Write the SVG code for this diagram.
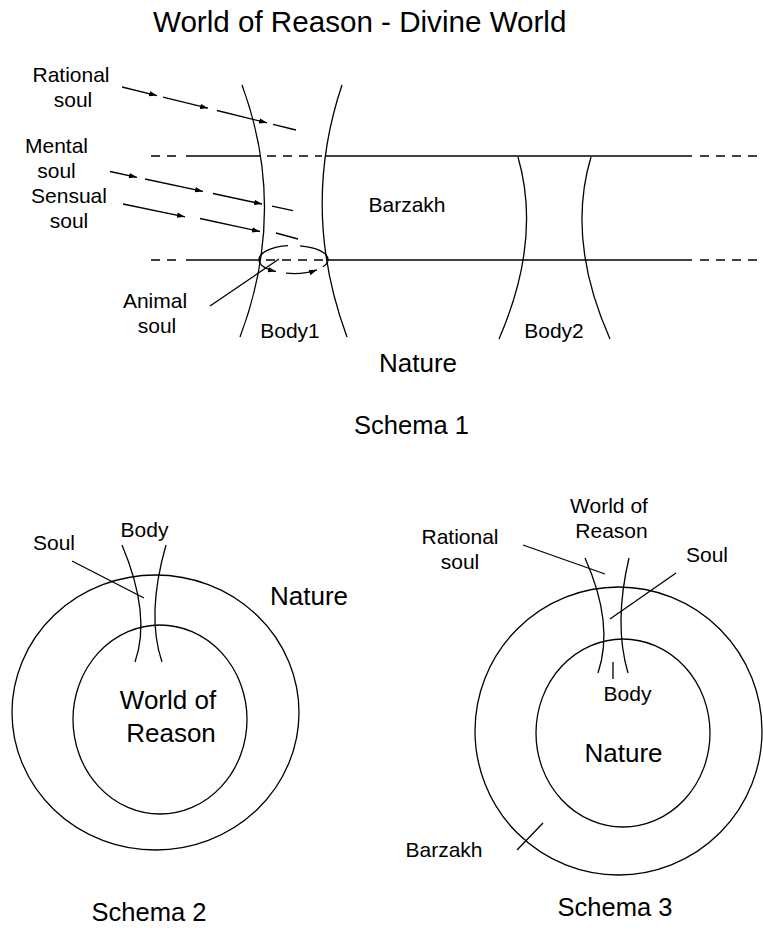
<svg xmlns="http://www.w3.org/2000/svg" width="763" height="941" viewBox="0 0 763 941">
  <style>
    .ln { fill: none; stroke: #000; stroke-width: 1.3; }
    .dash { fill: none; stroke: #000; stroke-width: 1.3; stroke-dasharray: 9 7; }
    .t { font-family: "Liberation Sans", Arial, sans-serif; fill: #000; }
    .s21 { font-size: 21px; }
    .s26 { font-size: 26px; }
    .mid { text-anchor: middle; }
  </style>
  <defs>
    <marker id="ah" markerUnits="userSpaceOnUse" markerWidth="9" markerHeight="7" refX="8" refY="3" orient="auto">
      <path d="M0,0.3 L8,3 L0,5.7 z" fill="#000"/>
    </marker>
  </defs>
  <rect width="763" height="941" fill="#fff"/>

  <text class="t" x="153" y="32" font-size="29.6">World of Reason - Divine World</text>

  <!-- Schema 1 -->
  <g id="schema1">
    <g id="levels">
      <line class="dash" x1="151" y1="156" x2="180" y2="156"/>
      <line class="ln" x1="186" y1="156" x2="261" y2="156"/>
      <line class="dash" x1="267" y1="156" x2="322" y2="156"/>
      <line class="ln" x1="325" y1="156" x2="692" y2="156"/>
      <line class="dash" x1="700" y1="156" x2="763" y2="156" stroke-dasharray="11 7"/>
      <line class="dash" x1="151" y1="260" x2="180" y2="260"/>
      <line class="ln" x1="186" y1="260" x2="260" y2="260"/>
      <line class="dash" x1="266" y1="260" x2="324" y2="260"/>
      <line class="ln" x1="327" y1="260" x2="692" y2="260"/>
      <line class="dash" x1="700" y1="260" x2="763" y2="260" stroke-dasharray="11 7"/>
    </g>
    <g id="body1">
      <path class="ln" d="M242,85 Q288,210 240,337"/>
      <path class="ln" d="M342,85 Q300,210 347,337"/>
      <text class="t s21 mid" x="290" y="338">Body1</text>
    </g>
    <g id="body2">
      <path class="ln" d="M518,157 Q542,240 499,339"/>
      <path class="ln" d="M591,157 Q566,240 610,339"/>
      <text class="t s21 mid" x="554" y="338">Body2</text>
    </g>
    <text id="barzakh1" class="t s21 mid" x="407" y="212">Barzakh</text>
    <text id="nature1" class="t s26 mid" x="418" y="372">Nature</text>
    <text id="caption1" class="t mid" x="411.5" y="434" font-size="25.5">Schema 1</text>

    <g id="rational-soul">
      <text class="t s21 mid" x="71" y="82">Rational</text>
      <text class="t s21 mid" x="73" y="107">soul</text>
    </g>
    <g id="mental-soul">
      <text class="t s21 mid" x="56.5" y="153">Mental</text>
      <text class="t s21 mid" x="56.5" y="178">soul</text>
    </g>
    <g id="sensual-soul">
      <text class="t s21 mid" x="69" y="203">Sensual</text>
      <text class="t s21 mid" x="69" y="228">soul</text>
    </g>
    <g id="animal-soul">
      <text class="t s21 mid" x="155" y="308">Animal</text>
      <text class="t s21 mid" x="157" y="333">soul</text>
    </g>

    <g id="connectors1">
      <!-- rational soul path -->
      <line class="ln" x1="122" y1="87" x2="157" y2="95.6" marker-end="url(#ah)"/>
      <line class="ln" x1="163" y1="97.1" x2="208" y2="108.2" marker-end="url(#ah)"/>
      <line class="ln" x1="217" y1="110.5" x2="267" y2="122.8" marker-end="url(#ah)"/>
      <line class="ln" x1="273" y1="124.3" x2="296" y2="130"/>
      <!-- mental soul path -->
      <line class="ln" x1="110" y1="171.5" x2="137" y2="177.3" marker-end="url(#ah)"/>
      <line class="ln" x1="145" y1="179" x2="203" y2="191.4" marker-end="url(#ah)"/>
      <line class="ln" x1="213" y1="193.5" x2="262" y2="204" marker-end="url(#ah)"/>
      <line class="ln" x1="272" y1="206.1" x2="293" y2="210.6"/>
      <!-- sensual soul path -->
      <line class="ln" x1="123" y1="204" x2="185" y2="216.8" marker-end="url(#ah)"/>
      <line class="ln" x1="200" y1="218.5" x2="260" y2="231.5" marker-end="url(#ah)"/>
      <line class="ln" x1="276" y1="233" x2="298" y2="239"/>
      <!-- animal soul circuit -->
      <path class="ln" d="M259,259.5 A34.5,14 0 0 1 288,245.7"/>
      <path class="ln" d="M300,245.8 A34.5,14 0 0 1 328,259.5"/>
      <path class="ln" d="M259,259.5 A34.5,14 0 0 0 276,271.6" marker-end="url(#ah)"/>
      <path class="ln" d="M286,273.2 A34.5,14 0 0 0 317,269.8" marker-end="url(#ah)"/>
      <path class="ln" d="M323,266.8 A34.5,14 0 0 0 328,259.5"/>
      <line class="ln" x1="210" y1="306" x2="279" y2="259"/>
    </g>
  </g>

  <!-- Schema 2 -->
  <g id="schema2">
    <ellipse id="nature2" class="ln" cx="155.5" cy="712.5" rx="143.5" ry="137.5"/>
    <ellipse id="reason2" class="ln" cx="160" cy="719.5" rx="87" ry="94.5"/>
    <g id="body-s2">
      <path class="ln" d="M122,545 Q151.5,615 135,662"/>
      <path class="ln" d="M166,545 Q146,615 162,662"/>
      <text class="t s21 mid" x="144.5" y="537">Body</text>
    </g>
    <g id="soul-s2">
      <text class="t s21 mid" x="54" y="550">Soul</text>
      <line class="ln" x1="72" y1="561" x2="144" y2="598"/>
    </g>
    <text class="t s26 mid" x="309" y="605">Nature</text>
    <text class="t s26 mid" x="168" y="709">World of</text>
    <text class="t s26 mid" x="171" y="742">Reason</text>
    <text id="caption2" class="t mid" x="149" y="921" font-size="25.5">Schema 2</text>
  </g>

  <!-- Schema 3 -->
  <g id="schema3">
    <ellipse id="barzakh3" class="ln" cx="618.5" cy="731" rx="143.5" ry="144"/>
    <ellipse id="nature3" class="ln" cx="623" cy="733" rx="87" ry="94"/>
    <g id="body-s3">
      <path class="ln" d="M585,558 Q614.5,624 598,673"/>
      <path class="ln" d="M629,558 Q613.5,624 628,673"/>
      <line class="ln" x1="613" y1="662" x2="613" y2="679"/>
      <text class="t s21 mid" x="627.5" y="701">Body</text>
    </g>
    <g id="reason3">
      <text class="t s21 mid" x="609" y="513">World of</text>
      <text class="t s21 mid" x="611.5" y="538">Reason</text>
    </g>
    <g id="rational-s3">
      <text class="t s21 mid" x="460" y="544">Rational</text>
      <text class="t s21 mid" x="460" y="569">soul</text>
      <line class="ln" x1="523" y1="545" x2="605" y2="574"/>
    </g>
    <g id="soul-s3">
      <text class="t s21 mid" x="707" y="562">Soul</text>
      <line class="ln" x1="676" y1="573" x2="610" y2="619"/>
    </g>
    <text class="t s26 mid" x="623.5" y="762">Nature</text>
    <g id="barzakh-s3">
      <text class="t s21 mid" x="444" y="857">Barzakh</text>
      <line class="ln" x1="517" y1="850" x2="543" y2="823"/>
    </g>
    <text id="caption3" class="t mid" x="615" y="916" font-size="25.5">Schema 3</text>
  </g>
</svg>
